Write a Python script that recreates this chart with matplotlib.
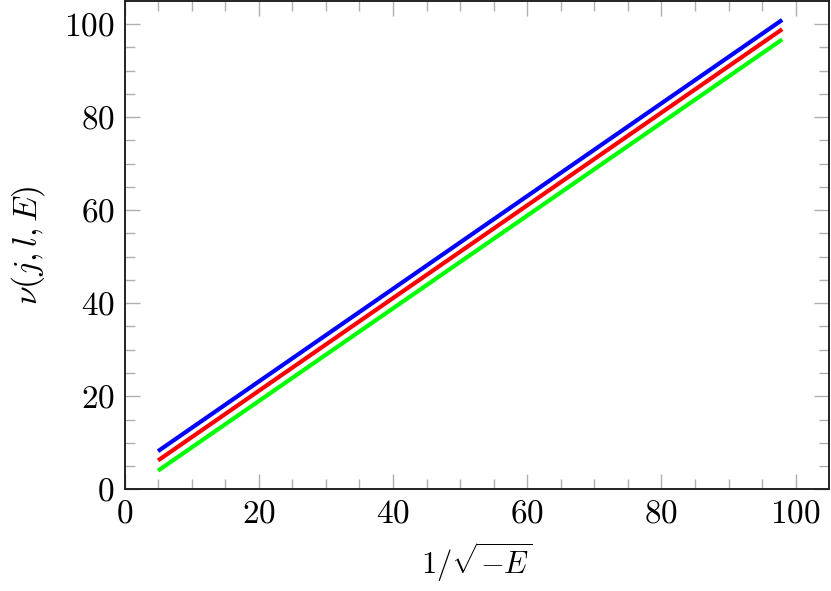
import numpy as np
import matplotlib
matplotlib.use('Agg')
import matplotlib.pyplot as plt
from matplotlib.ticker import MultipleLocator

# data (endpoints of straight lines)
x_vals = [5, 98]
nu_blue = [8.2, 100.9]
nu_red = [6.2, 98.9]
nu_green = [4.0, 96.7]

plt.rcParams['font.family'] = 'serif'
plt.rcParams['font.serif'] = ['cmr10', 'DejaVu Serif']
plt.rcParams['mathtext.fontset'] = 'cm'
plt.rcParams['axes.formatter.use_mathtext'] = True

fig = plt.figure(figsize=(8.31, 5.91), dpi=100)
ax = fig.add_axes([124.5 / 831, 1 - 489.3 / 591, 704 / 831, 488 / 591])

ax.plot(x_vals, nu_blue, color='#0000ff', lw=3.0, solid_capstyle='butt')
ax.plot(x_vals, nu_red, color='#ff0000', lw=3.0, solid_capstyle='butt')
ax.plot(x_vals, nu_green, color='#00ff00', lw=3.0, solid_capstyle='butt')

ax.set_xlim(0, 104.9)
ax.set_ylim(0, 104.9)
ax.xaxis.set_major_locator(MultipleLocator(20))
ax.yaxis.set_major_locator(MultipleLocator(20))
ax.xaxis.set_minor_locator(MultipleLocator(5))
ax.yaxis.set_minor_locator(MultipleLocator(5))
ax.tick_params(which='both', direction='in', top=True, right=True,
               color='#b0b0b0', width=1.0, labelsize=24, pad=7)
ax.tick_params(which='major', length=10.5)
ax.tick_params(which='minor', length=7)

for s in ax.spines.values():
    s.set_linewidth(1.4)
    s.set_color('#222222')

ax.set_xlabel(r'$1/\sqrt{-E}$', fontsize=22, labelpad=9)
ax.set_ylabel(r'$\nu(j,l,E)$', fontsize=24, labelpad=12)

fig.savefig('out.png', dpi=100)
